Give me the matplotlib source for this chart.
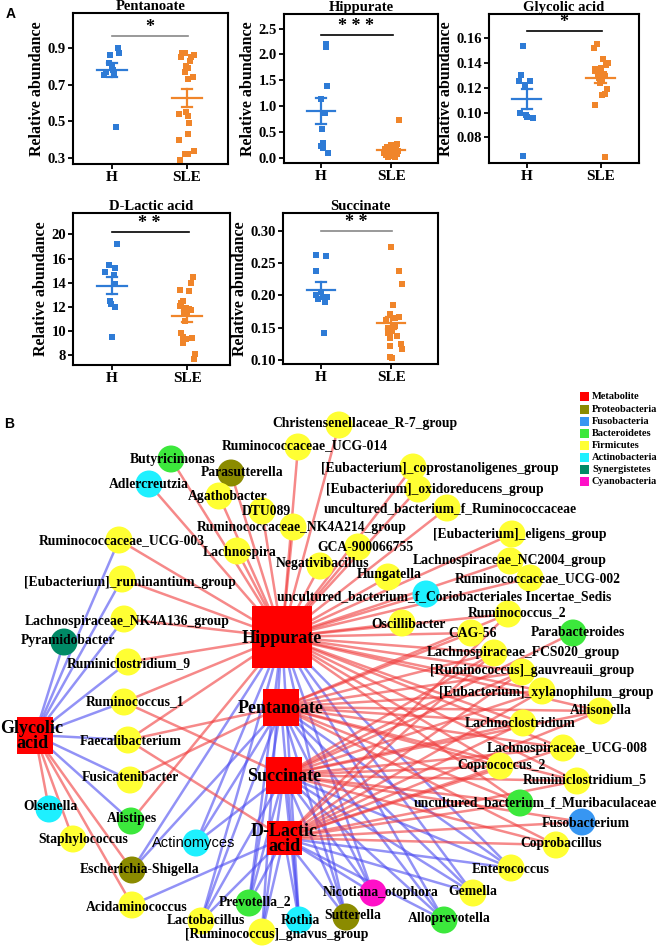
import matplotlib
matplotlib.use("Agg")
import matplotlib.pyplot as plt
from matplotlib.patches import Circle, Rectangle
import numpy as np

plt.rcParams["font.family"] = ["Liberation Serif", "DejaVu Serif"]
plt.rcParams["font.weight"] = "bold"

W, H = 661, 947

# ---------------- panel A data ----------------
pent_h = [0.90, 0.87, 0.86, 0.82, 0.80, 0.78, 0.77, 0.76, 0.75, 0.47]
pent_h_dx = [0.08, 0.10, -0.03, -0.04, 0.0, 0.02, -0.08, 0.03, -0.10, 0.06]
pent_s = [0.87, 0.87, 0.86, 0.85, 0.85, 0.83, 0.80, 0.79, 0.77, 0.74, 0.73,
          0.55, 0.54, 0.53, 0.49, 0.43, 0.40, 0.34, 0.32, 0.32, 0.29]
pent_s_dx = [-0.07, -0.03, 0.09, -0.08, 0.06, 0.04, -0.01, 0.01, -0.03, 0.08, 0.01,
             -0.01, -0.10, 0.02, 0.03, 0.02, -0.10, 0.09, 0.02, -0.02, -0.09]

hipp_h = [2.20, 2.15, 1.39, 1.13, 0.86, 0.55, 0.28, 0.24, 0.19, 0.10]
hipp_h_dx = [0.07, 0.07, 0.09, 0.0, 0.06, 0.01, 0.02, 0.0, 0.03, 0.10]
hipp_s = [0.74, 0.27, 0.25, 0.22, 0.20, 0.18, 0.16, 0.15, 0.13, 0.12, 0.11,
          0.10, 0.09, 0.08, 0.07, 0.06, 0.05, 0.04, 0.03, 0.02, 0.01]
hipp_s_dx = [0.11, 0.09, 0.0, -0.06, 0.05, -0.09, 0.07, -0.03, 0.10, -0.07, 0.03,
             -0.10, 0.05, -0.04, 0.08, 0.0, -0.08, 0.04, -0.03, 0.06, -0.05]

glyc_h = [0.153, 0.130, 0.125, 0.125, 0.122, 0.100, 0.098, 0.096, 0.0955, 0.065]
glyc_h_dx = [-0.05, -0.08, -0.10, 0.05, -0.02, -0.09, -0.01, 0.01, 0.08, -0.05]
glyc_s = [0.155, 0.152, 0.143, 0.140, 0.138, 0.136, 0.135, 0.134, 0.133, 0.132, 0.131,
          0.130, 0.129, 0.128, 0.126, 0.124, 0.119, 0.115, 0.114, 0.106, 0.064]
glyc_s_dx = [-0.05, -0.09, 0.03, 0.10, 0.08, 0.0, -0.07, -0.03, -0.08, 0.01, 0.04,
             -0.04, 0.06, -0.02, 0.02, -0.01, 0.09, 0.06, 0.02, -0.08, 0.06]

dlac_h = [17.2, 15.5, 15.2, 14.9, 14.6, 13.9, 12.5, 12.2, 12.0, 9.5]
dlac_h_dx = [0.06, -0.04, 0.04, -0.09, 0.03, 0.04, -0.03, -0.01, 0.04, 0.0]
dlac_s = [14.5, 14.0, 13.4, 13.3, 12.5, 12.3, 12.1, 11.9, 11.8, 11.7,
          11.6, 11.5, 10.8, 9.8, 9.5, 9.4, 9.3, 9.0, 8.1, 7.7]
dlac_s_dx = [0.08, 0.05, -0.09, 0.02, -0.05, -0.08, -0.10, -0.02, 0.03, 0.05,
             -0.04, 0.0, -0.03, -0.08, -0.06, 0.06, -0.02, -0.05, 0.10, 0.09]

succ_h = [0.262, 0.261, 0.237, 0.205, 0.200, 0.198, 0.197, 0.195, 0.190, 0.142]
succ_h_dx = [-0.07, 0.07, -0.07, 0.0, -0.07, 0.04, 0.08, -0.04, 0.06, 0.04]
succ_s = [0.274, 0.238, 0.217, 0.185, 0.172, 0.167, 0.166, 0.163, 0.153, 0.150,
          0.145, 0.142, 0.140, 0.138, 0.135, 0.125, 0.122, 0.117, 0.105, 0.103]
succ_s_dx = [0.0, 0.11, 0.16, 0.03, -0.01, 0.11, 0.06, -0.07, 0.05, -0.04,
             0.02, -0.05, -0.02, 0.09, -0.01, 0.14, -0.02, 0.16, -0.02, 0.02]

groups = ["H", "SLE"]
c_h = "#2e7bd6"
c_s = "#f0852a"

# ---------------- panel B data ----------------
phyla = ["Proteobacteria", "Fusobacteria", "Bacteroidetes", "Firmicutes",
         "Actinobacteria", "Synergistetes", "Cyanobacteria"]
phylum_colors = ["#8b8b00", "#3796f2", "#3ce83c", "#ffff33", "#1ef0ff", "#008a66", "#ff10c8"]
met_color = "#ff0000"

met_names = ["Hippurate", "Pentanoate", "Succinate", "D-Lactic\nacid", "Glycolic\nacid"]
met_keys = ["Hippurate", "Pentanoate", "Succinate", "D-Lactic", "Glycolic"]
met_x = [282, 281, 284, 284, 35]
met_y = [637, 707, 775, 838, 735]
met_w = [60, 36, 36, 35, 36]
met_h = [62, 37, 37, 34, 37]

tax_names = [
    "Christensenellaceae_R-7_group", "Ruminococcaceae_UCG-014", "Butyricimonas",
    "Parasutterella", "Adlercreutzia", "Agathobacter", "DTU089",
    "[Eubacterium]_coprostanoligenes_group", "[Eubacterium]_oxidoreducens_group",
    "uncultured_bacterium_f_Ruminococcaceae", "Ruminococcaceae_NK4A214_group",
    "[Eubacterium]_eligens_group", "Ruminococcaceae_UCG-003", "Lachnospira",
    "GCA-900066755", "Lachnospiraceae_NC2004_group", "Negativibacillus", "Hungatella",
    "Ruminococcaceae_UCG-002", "[Eubacterium]_ruminantium_group",
    "uncultured_bacterium_f_Coriobacteriales Incertae_Sedis", "Ruminococcus_2",
    "Lachnospiraceae_NK4A136_group", "Oscillibacter", "CAG-56", "Parabacteroides",
    "Pyramidobacter", "Lachnospiraceae_FCS020_group", "Ruminiclostridium_9",
    "[Ruminococcus]_gauvreauii_group", "[Eubacterium]_xylanophilum_group",
    "Ruminococcus_1", "Allisonella", "Lachnoclostridium", "Faecalibacterium",
    "Lachnospiraceae_UCG-008", "Coprococcus_2", "Fusicatenibacter",
    "Ruminiclostridium_5", "uncultured_bacterium_f_Muribaculaceae", "Olsenella",
    "Alistipes", "Fusobacterium", "Staphylococcus", "Actinomyces", "Coprobacillus",
    "Escherichia-Shigella", "Enterococcus", "Nicotiana_otophora", "Gemella",
    "Prevotella_2", "Acidaminococcus", "Sutterella", "Alloprevotella",
    "Lactobacillus", "Rothia", "[Ruminococcus]_gnavus_group"]
tax_phylum = [
    3, 3, 2, 0, 4, 3, 3, 3, 3, 3, 3, 3, 3, 3, 3, 3, 3, 3, 3, 3, 4, 3, 3, 3, 3, 2,
    5, 3, 3, 3, 3, 3, 3, 3, 3, 3, 3, 3, 3, 2, 4, 2, 1, 3, 4, 3, 0, 3, 6, 3, 2, 3,
    0, 2, 3, 4, 3]
tax_x = [339, 298, 171, 231, 149, 219, 262, 413, 418, 447, 293, 512, 119, 237,
         358, 510, 320, 388, 530, 122, 426, 508, 124, 402, 471, 573, 64, 494, 128,
         522, 542, 124, 600, 523, 128, 563, 500, 130, 577, 520, 49, 131, 582, 73,
         196, 556, 132, 511, 373, 473, 249, 132, 346, 444, 201, 299, 262]
tax_y = [425, 447, 459, 473, 484, 496, 511, 467, 489, 508, 527, 534, 540, 551,
         547, 561, 566, 577, 578, 579, 594, 614, 619, 623, 633, 633, 642, 653, 662,
         672, 691, 702, 711, 723, 740, 748, 766, 780, 781, 803, 809, 821, 822, 839,
         843, 845, 870, 868, 893, 893, 903, 905, 917, 920, 921, 920, 932]
lab_x = [365, 305, 173, 242, 149, 228, 266, 440, 435, 450, 302, 520, 122, 240,
         365, 510, 323, 389, 538, 130, 444, 517, 127, 409, 473, 578, 68, 523, 129,
         532, 546, 135, 601, 520, 131, 567, 502, 130, 585, 535, 51, 132, 586, 83,
         194, 561, 140, 511, 381, 473, 255, 137, 353, 449, 206, 300, 277]
lab_y = [423, 446, 459, 472, 484, 496, 511, 468, 489, 509, 527, 534, 541, 552,
         547, 560, 563, 574, 579, 582, 597, 613, 621, 624, 633, 632, 640, 652, 664,
         670, 692, 702, 710, 723, 741, 748, 765, 777, 780, 803, 806, 818, 823, 839,
         843, 843, 869, 869, 892, 891, 902, 907, 915, 918, 920, 920, 934]

# correlations: positive (red) and negative (blue) per metabolite
pos_edges = {
    "Hippurate": ["Christensenellaceae_R-7_group", "Ruminococcaceae_UCG-014", "Butyricimonas",
                  "Parasutterella", "Adlercreutzia", "Agathobacter", "DTU089",
                  "[Eubacterium]_coprostanoligenes_group", "[Eubacterium]_oxidoreducens_group",
                  "uncultured_bacterium_f_Ruminococcaceae", "Ruminococcaceae_NK4A214_group",
                  "[Eubacterium]_eligens_group", "Ruminococcaceae_UCG-003", "Lachnospira",
                  "GCA-900066755", "Lachnospiraceae_NC2004_group", "Negativibacillus",
                  "Hungatella", "Ruminococcaceae_UCG-002", "[Eubacterium]_ruminantium_group",
                  "uncultured_bacterium_f_Coriobacteriales Incertae_Sedis", "Ruminococcus_2",
                  "Lachnospiraceae_NK4A136_group", "Oscillibacter", "CAG-56",
                  "Lachnospiraceae_FCS020_group", "Ruminiclostridium_9",
                  "[Ruminococcus]_gauvreauii_group", "[Eubacterium]_xylanophilum_group",
                  "Ruminococcus_1", "Lachnoclostridium", "Faecalibacterium",
                  "Lachnospiraceae_UCG-008", "Coprococcus_2", "Ruminiclostridium_5",
                  "Alistipes", "uncultured_bacterium_f_Muribaculaceae", "Allisonella"],
    "Pentanoate": ["Lachnoclostridium", "Coprococcus_2", "Lachnospiraceae_UCG-008",
                   "Ruminiclostridium_5", "Allisonella", "uncultured_bacterium_f_Muribaculaceae",
                   "Fusicatenibacter", "CAG-56", "Ruminococcus_2",
                   "[Ruminococcus]_gauvreauii_group", "[Eubacterium]_xylanophilum_group",
                   "Lachnospiraceae_FCS020_group", "Coprobacillus", "Faecalibacterium"],
    "Succinate": ["Ruminococcus_1", "Coprococcus_2", "Lachnoclostridium",
                  "Lachnospiraceae_UCG-008", "Ruminiclostridium_5",
                  "uncultured_bacterium_f_Muribaculaceae", "Fusobacterium", "Coprobacillus",
                  "Lachnospiraceae_FCS020_group", "[Ruminococcus]_gauvreauii_group",
                  "[Eubacterium]_xylanophilum_group", "Parabacteroides", "Allisonella"],
    "D-Lactic": ["Lachnospiraceae_FCS020_group", "[Ruminococcus]_gauvreauii_group",
                 "[Eubacterium]_xylanophilum_group", "Lachnoclostridium",
                 "Lachnospiraceae_UCG-008", "Coprococcus_2", "Ruminiclostridium_5",
                 "uncultured_bacterium_f_Muribaculaceae", "Fusobacterium", "Coprobacillus",
                 "Faecalibacterium", "Allisonella", "Ruminococcus_2"],
    "Glycolic": ["Olsenella", "Staphylococcus", "Escherichia-Shigella", "Acidaminococcus"],
}
neg_edges = {
    "Hippurate": ["Escherichia-Shigella", "Actinomyces", "Lactobacillus", "Enterococcus",
                  "Gemella", "Alloprevotella", "Nicotiana_otophora", "Sutterella", "Rothia",
                  "[Ruminococcus]_gnavus_group", "Prevotella_2"],
    "Pentanoate": ["Escherichia-Shigella", "Actinomyces", "Enterococcus", "Gemella",
                   "Alloprevotella", "Nicotiana_otophora", "Sutterella", "Rothia",
                   "Prevotella_2", "Lactobacillus"],
    "Succinate": ["Actinomyces", "Enterococcus", "Gemella", "Alloprevotella",
                  "Nicotiana_otophora", "Sutterella", "Rothia", "Prevotella_2",
                  "[Ruminococcus]_gnavus_group", "Lactobacillus"],
    "D-Lactic": ["Acidaminococcus", "Lactobacillus", "[Ruminococcus]_gnavus_group",
                 "Prevotella_2", "Rothia", "Sutterella", "Nicotiana_otophora",
                 "Alloprevotella", "Gemella", "Enterococcus"],
    "Glycolic": ["Ruminococcaceae_UCG-003", "[Eubacterium]_ruminantium_group",
                 "Lachnospiraceae_NK4A136_group", "Pyramidobacter", "Ruminiclostridium_9",
                 "Ruminococcus_1", "Faecalibacterium", "Fusicatenibacter", "Alistipes"],
}


def px_rect(x0, y0, x1, y1):
    return [x0 / W, 1 - y1 / H, (x1 - x0) / W, (y1 - y0) / H]


def dot_panel(rect, title, hv, hdx, sv, sdx, xlim, ylim, yticks, ytl, sig_y, stars, sig_c):
    ax = fig.add_axes(px_rect(*rect))
    for i, (vals, dx, col) in enumerate([(hv, hdx, c_h), (sv, sdx, c_s)]):
        pos = i + 1
        ax.scatter(pos + np.array(dx), vals, marker="s", s=17, color=col, linewidths=0, zorder=3)
        m = np.mean(vals)
        sem = np.std(vals, ddof=1) / np.sqrt(len(vals))
        ax.plot([pos - 0.2, pos + 0.2], [m, m], color=col, lw=1.6, zorder=4)
        ax.plot([pos, pos], [m - sem, m + sem], color=col, lw=1.6, zorder=4)
        for v in (m - sem, m + sem):
            ax.plot([pos - 0.07, pos + 0.07], [v, v], color=col, lw=1.6, zorder=4)
    ax.plot([1, 2.02], [sig_y, sig_y], color=sig_c, lw=1.2)
    ax.text(1.5, sig_y, stars, ha="center", va="bottom", fontsize=13, fontweight="bold")
    ax.set_xlim(*xlim)
    ax.set_ylim(*ylim)
    ax.set_xticks([1, 2])
    ax.set_xticklabels(groups, fontsize=11, fontweight="bold")
    ax.set_yticks(yticks)
    ax.set_yticklabels(ytl, fontsize=10.5, fontweight="bold")
    ax.tick_params(direction="out", length=3.5, width=1.3, pad=1.5)
    for sp in ax.spines.values():
        sp.set_linewidth(1.5)
    ax.set_title(title, fontsize=10.5, fontweight="bold", pad=2)
    ax.set_ylabel("Relative abundance", fontsize=11.5, fontweight="bold", labelpad=2)
    return ax


fig = plt.figure(figsize=(W / 100, H / 100), dpi=100)

dot_panel((73, 13, 228, 164), "Pentanoate", pent_h, pent_h_dx, pent_s, pent_s_dx,
          (0.48, 2.55), (0.267, 1.09), [0.3, 0.5, 0.7, 0.9], ["0.3", "0.5", "0.7", "0.9"],
          0.967, "*", "#888888")
dot_panel((284, 14, 438, 163), "Hippurate", hipp_h, hipp_h_dx, hipp_s, hipp_s_dx,
          (0.47, 2.67), (-0.097, 2.78), [0, 0.5, 1.0, 1.5, 2.0, 2.5],
          ["0.0", "0.5", "1.0", "1.5", "2.0", "2.5"], 2.38, "* * *", "black")
dot_panel((489, 14, 639, 163), "Glycolic acid", glyc_h, glyc_h_dx, glyc_s, glyc_s_dx,
          (0.49, 2.52), (0.0595, 0.179), [0.08, 0.10, 0.12, 0.14, 0.16],
          ["0.08", "0.10", "0.12", "0.14", "0.16"], 0.1653, "*", "black")
dot_panel((73, 213, 230, 365), "D-Lactic acid", dlac_h, dlac_h_dx, dlac_s, dlac_s_dx,
          (0.48, 2.57), (7.18, 19.77), [8, 10, 12, 14, 16, 18],
          ["8", "10", "12", "14", "16", "20"], 18.2, "* *", "black")
dot_panel((283, 213, 438, 364), "Succinate", succ_h, succ_h_dx, succ_s, succ_s_dx,
          (0.457, 2.67), (0.0945, 0.327), [0.10, 0.15, 0.20, 0.25, 0.30],
          ["0.10", "0.15", "0.20", "0.25", "0.30"], 0.300, "* *", "#888888")

fig.text(11 / W, 1 - 14 / H, "A", family="Liberation Sans", fontsize=10, fontweight="bold",
         ha="center", va="center")
fig.text(9 / W, 1 - 424 / H, "B", family="Liberation Sans", fontsize=10, fontweight="bold",
         ha="center", va="center")

# ---------------- panel B network ----------------
top = 385
ax = fig.add_axes([0, 0, 1, (H - top) / H])
ax.set_xlim(0, W)
ax.set_ylim(H, top)
ax.axis("off")

tax_idx = {n: i for i, n in enumerate(tax_names)}
for k, mk in enumerate(met_keys):
    for edges, col in ((pos_edges, "#f03a3a"), (neg_edges, "#4a4af0")):
        for t in edges[mk]:
            j = tax_idx[t]
            ax.plot([met_x[k], tax_x[j]], [met_y[k], tax_y[j]], color=col, alpha=0.6,
                    lw=1.8, zorder=1, solid_capstyle="butt")

for j, n in enumerate(tax_names):
    ax.add_patch(Circle((tax_x[j], tax_y[j]), 13.5, color=phylum_colors[tax_phylum[j]],
                        zorder=2, lw=0))
    if n == "Actinomyces":
        ax.text(lab_x[j], lab_y[j], n, family="Liberation Sans", fontweight="normal",
                fontsize=10.5, ha="center", va="center", zorder=4)
    else:
        ax.text(lab_x[j], lab_y[j], n, fontsize=9.8, fontweight="bold",
                ha="center", va="center", zorder=4)

for k, n in enumerate(met_names):
    ax.add_patch(Rectangle((met_x[k] - met_w[k] / 2, met_y[k] - met_h[k] / 2), met_w[k],
                           met_h[k], color=met_color, zorder=3, lw=0))
    lx = met_x[k] - 3 if k == 4 else met_x[k]
    ax.text(lx, met_y[k] + 1, n, fontsize=13, fontweight="bold", ha="center", va="center",
            linespacing=0.8, zorder=5)

# legend
leg_labels = ["Metabolite"] + phyla
leg_colors = [met_color] + phylum_colors
leg_y = [396] + [409 + 12 * i for i in range(len(phyla))]
for lab, col, yy in zip(leg_labels, leg_colors, leg_y):
    ax.add_patch(Rectangle((580, yy - 4.5), 9, 9, color=col, lw=0, zorder=3))
    ax.text(592, yy, lab, fontsize=7.5, fontweight="bold", ha="left", va="center")

fig.savefig("out.png", dpi=100)
